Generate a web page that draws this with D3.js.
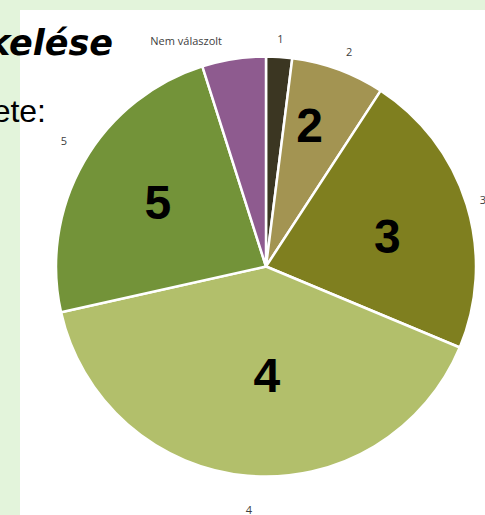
<!DOCTYPE html>
<html>
<head>
<meta charset="utf-8">
<script src="https://cdn.jsdelivr.net/npm/d3@7"></script>
<style>
  html, body { margin: 0; padding: 0; background: #e3f4db; }
  svg { display: block; }
</style>
</head>
<body>
<svg id="chart" width="485" height="515"></svg>
<script>
// Answer categories and their shares (%)
const categories = ["1", "2", "3", "4", "5", "Nem válaszolt"];
const shares = [2.0, 7.2, 22.1, 40.2, 23.6, 4.9];
const colors = ["#3b3622", "#a39452", "#7f7f1f", "#b2bf6b", "#739339", "#8e5b8f"];
// Large in-slice labels (empty where none is shown)
const innerLabels = ["", "2", "3", "4", "5", ""];

// Label layout: radius and angular nudge (degrees) per slice
const innerRadius = [0, 148, 125, 108, 126, 0];
const innerNudge = [0, -3, 3, -5.5, 1, 0];
const outerRadius = [228, 230, 227, 244, 238, 239];
const outerNudge = [0, 1, 0, -1, 2, -10.7];

const svg = d3.select("#chart");
const W = 485, H = 515;

// slide background with white chart panel
svg.append("rect").attr("x", 0).attr("y", 0).attr("width", W).attr("height", H).attr("fill", "#e3f4db");
svg.append("rect").attr("x", 20).attr("y", 10).attr("width", W - 20).attr("height", H - 10).attr("fill", "#ffffff");

// slide text behind the chart
svg.append("text")
  .attr("x", 113).attr("y", 55)
  .attr("text-anchor", "end")
  .attr("font-family", "DejaVu Sans, Verdana, sans-serif")
  .attr("font-weight", "bold").attr("font-style", "italic")
  .attr("font-size", 35)
  .attr("fill", "#000")
  .text("kelése");
svg.append("text")
  .attr("x", 46).attr("y", 122)
  .attr("text-anchor", "end")
  .attr("font-family", "Liberation Sans, Arial, sans-serif")
  .attr("font-size", 32)
  .attr("fill", "#000")
  .text("ete:");

const cx = 266, cy = 266.5, R = 210;
const data = categories.map((c, i) => ({ i, cat: c, value: shares[i], color: colors[i], inner: innerLabels[i] }));

const pie = d3.pie().value(d => d.value).sort(null);
const arcs = pie(data);
const arc = d3.arc().innerRadius(0).outerRadius(R);

const g = svg.append("g").attr("transform", `translate(${cx},${cy})`);

g.selectAll("path.slice")
  .data(arcs)
  .join("path")
  .attr("class", "slice")
  .attr("d", arc)
  .attr("fill", d => d.data.color)
  .attr("stroke", "#ffffff")
  .attr("stroke-width", 2.5)
  .attr("stroke-linejoin", "round");

// polar position from a slice's mid angle
function polar(d, r, nudgeDeg) {
  const a = (d.startAngle + d.endAngle) / 2 + nudgeDeg * Math.PI / 180;
  return [r * Math.sin(a), -r * Math.cos(a)];
}

// large bold labels inside the slices
g.selectAll("text.inner")
  .data(arcs.filter(d => d.data.inner))
  .join("text")
  .attr("class", "inner")
  .attr("transform", d => `translate(${polar(d, innerRadius[d.data.i], innerNudge[d.data.i])})`)
  .attr("text-anchor", "middle")
  .attr("dy", "0.36em")
  .attr("font-family", "Liberation Sans, Arial, sans-serif")
  .attr("font-weight", "bold")
  .attr("font-size", 48)
  .attr("fill", "#000")
  .text(d => d.data.inner);

// small category labels outside the pie
g.selectAll("text.outer")
  .data(arcs)
  .join("text")
  .attr("class", "outer")
  .attr("transform", d => `translate(${polar(d, outerRadius[d.data.i], outerNudge[d.data.i])})`)
  .attr("text-anchor", "middle")
  .attr("dy", "0.35em")
  .attr("font-family", "Open Sans, Calibri, sans-serif")
  .attr("font-size", 11)
  .attr("fill", "#404040")
  .text(d => d.data.cat);
</script>
</body>
</html>
